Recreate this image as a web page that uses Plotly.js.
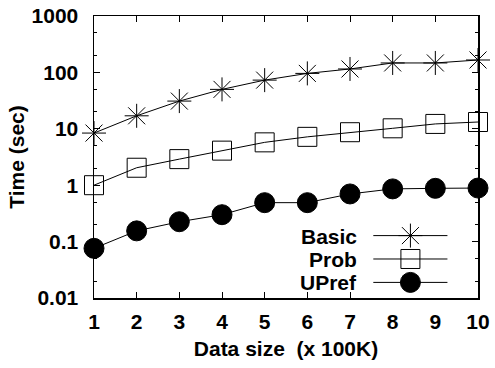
<!DOCTYPE html>
<html>
<head>
<meta charset="utf-8">
<script src="https://cdn.plot.ly/plotly-3.0.1.min.js"></script>
<style>html,body{margin:0;padding:0;background:#fff;}#chart{width:495px;height:368px;}</style>
</head>
<body>
<div id="chart"></div>
<script>
// Data
var dataSize = [1, 2, 3, 4, 5, 6, 7, 8, 9, 10];
var basicTime = [8.4, 17, 31, 50, 73, 96, 115, 147, 147, 166];
var probTime = [1.0, 2.04, 2.9, 4.1, 5.75, 7.2, 8.7, 10.2, 12.2, 13.2];
var uprefTime = [0.076, 0.155, 0.225, 0.30, 0.49, 0.49, 0.70, 0.86, 0.88, 0.89];
var seriesNames = ["Basic", "Prob", "UPref"];
var yTickVals = [0.01, 0.1, 1, 10, 100, 1000];
var yTickText = ["0.01", "0.1", "1", "10", "100", "1000"];
var xTickVals = [1, 2, 3, 4, 5, 6, 7, 8, 9, 10];

var FONT = "Liberation Sans, Arial, Helvetica, sans-serif";
var FS = 21;
var symbols = ["asterisk-open", "square-open", "circle"];
var sizes = [20, 19, 20];
var seriesY = [basicTime, probTime, uprefTime];

var traces = [];
for (var i = 0; i < 3; i++) {
  traces.push({
    x: dataSize, y: seriesY[i], type: "scatter", mode: "lines+markers",
    name: seriesNames[i], showlegend: false, cliponaxis: false,
    line: {color: "#000", width: 1},
    marker: {symbol: symbols[i], size: sizes[i], color: "#000", line: {color: "#000", width: 1}}
  });
}
// legend key samples on an overlay axis
var legY = [0.8, 0.5, 0.2];
for (var j = 0; j < 3; j++) {
  traces.push({
    x: [0, 0.5, 1], y: [legY[j], legY[j], legY[j]], xaxis: "x2", yaxis: "y2",
    type: "scatter", mode: "lines", showlegend: false, hoverinfo: "skip",
    line: {color: "#000", width: 1}
  });
  traces.push({
    x: [0.5], y: [legY[j]], xaxis: "x2", yaxis: "y2",
    type: "scatter", mode: "markers", showlegend: false, hoverinfo: "skip",
    marker: {symbol: symbols[j], size: sizes[j], color: "#000", line: {color: "#000", width: 1}}
  });
}

var annotations = [];
for (var k = 0; k < 3; k++) {
  annotations.push({
    text: "<b>" + seriesNames[k] + "</b>", xref: "x2", yref: "y2",
    x: 0, y: legY[k], xanchor: "right", yanchor: "middle", xshift: -14,
    height: 22, showarrow: false, font: {family: FONT, size: FS, color: "#000"}
  });
}

function bold(a) { return a.map(function (s) { return "<b>" + s + "</b>"; }); }

var layout = {
  width: 495, height: 368,
  margin: {l: 94, r: 17, t: 16, b: 70},
  paper_bgcolor: "#fff", plot_bgcolor: "#fff",
  showlegend: false,
  font: {family: FONT, size: FS, color: "#000"},
  xaxis: {
    range: [1, 10], tickvals: xTickVals, ticktext: bold(xTickVals.map(String)),
    ticks: "inside", ticklen: 6, tickwidth: 1, tickcolor: "#000",
    showline: true, linecolor: "#000", linewidth: 1.5, mirror: "ticks",
    showgrid: false, zeroline: false, ticklabelstandoff: 4,
    tickfont: {family: FONT, size: FS, color: "#000"},
    title: {text: "<b>Data size&nbsp; (x 100K)</b>", font: {family: FONT, size: FS, color: "#000"}, standoff: 9}
  },
  yaxis: {
    type: "log", range: [-2, 3], tickvals: yTickVals, ticktext: bold(yTickText),
    ticks: "inside", ticklen: 6, tickwidth: 1, tickcolor: "#000",
    showline: true, linecolor: "#000", linewidth: 1.5, mirror: "ticks",
    showgrid: false, zeroline: false, ticklabelstandoff: 10,
    minor: {ticks: "inside", ticklen: 3, tickcolor: "#000", dtick: "D2", showgrid: false},
    tickfont: {family: FONT, size: FS, color: "#000"},
    title: {text: "<b>Time (sec)</b>", font: {family: FONT, size: FS, color: "#000"}, standoff: 1}
  },
  xaxis2: {domain: [0.727, 0.921], range: [0, 1], visible: false, fixedrange: true, anchor: "y2"},
  yaxis2: {domain: [0, 0.2766], range: [0, 1], visible: false, fixedrange: true, anchor: "x2"},
  annotations: annotations
};

Plotly.newPlot("chart", traces, layout, {displayModeBar: false, staticPlot: true});
</script>
</body>
</html>
